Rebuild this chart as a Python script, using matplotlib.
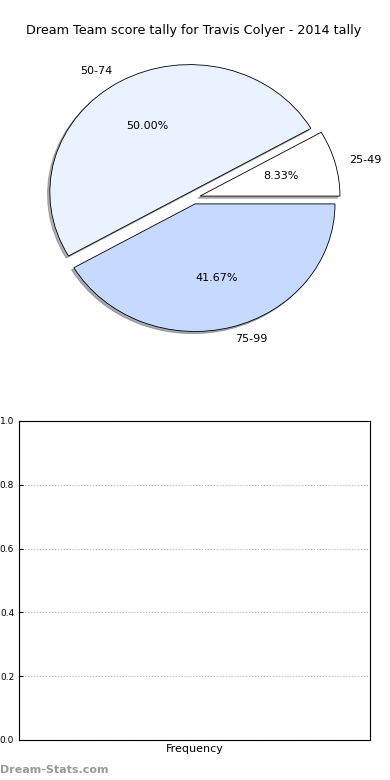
import matplotlib
matplotlib.use("Agg")
import matplotlib.pyplot as plt

labels = ["25-49", "50-74", "75-99"]
counts = [1, 6, 5]
colors = ["#ffffff", "#eaf1ff", "#c6d9ff"]
explode = [0.05, 0.05, 0.05]
yticks = [0.0, 0.2, 0.4, 0.6, 0.8, 1.0]

fig = plt.figure(figsize=(3.9, 7.8), dpi=100)

ax1 = fig.add_axes([0.047, 0.542, 0.897, 0.409])
wedges, texts, autotexts = ax1.pie(counts, labels=labels, colors=colors,
                                   explode=explode, autopct="%1.2f%%",
                                   shadow={"ox": -0.012, "oy": -0.012, "shade": 0.6},
                                   startangle=0,
                                   wedgeprops={"edgecolor": "black", "linewidth": 0.6},
                                   textprops={"fontsize": 8})
ax1.set_aspect("auto")
ax1.set_xlim(-1.25, 1.25)
ax1.set_ylim(-1.25, 1.25)
ax1.set_title("Dream Team score tally for Travis Colyer - 2014 tally", fontsize=9.2, pad=3)

ax2 = fig.add_axes([0.049, 0.0513, 0.9, 0.409])
ax2.set_ylim(0, 1)
ax2.set_yticks(yticks)
ax2.set_yticklabels(["%.1f" % t for t in yticks])
ax2.set_xticks([])
ax2.tick_params(axis="y", direction="in", labelsize=6.5, length=3, right=False)
ax2.yaxis.grid(True, linestyle=":", color="#b0b0b0", linewidth=0.8)
ax2.set_xlabel("Frequency", fontsize=8, labelpad=3)

fig.text(0.0, 0.006, "Dream-Stats.com", fontsize=8, color="#999999",
         fontweight="bold", ha="left", va="bottom")

fig.savefig("out.png", dpi=100)
